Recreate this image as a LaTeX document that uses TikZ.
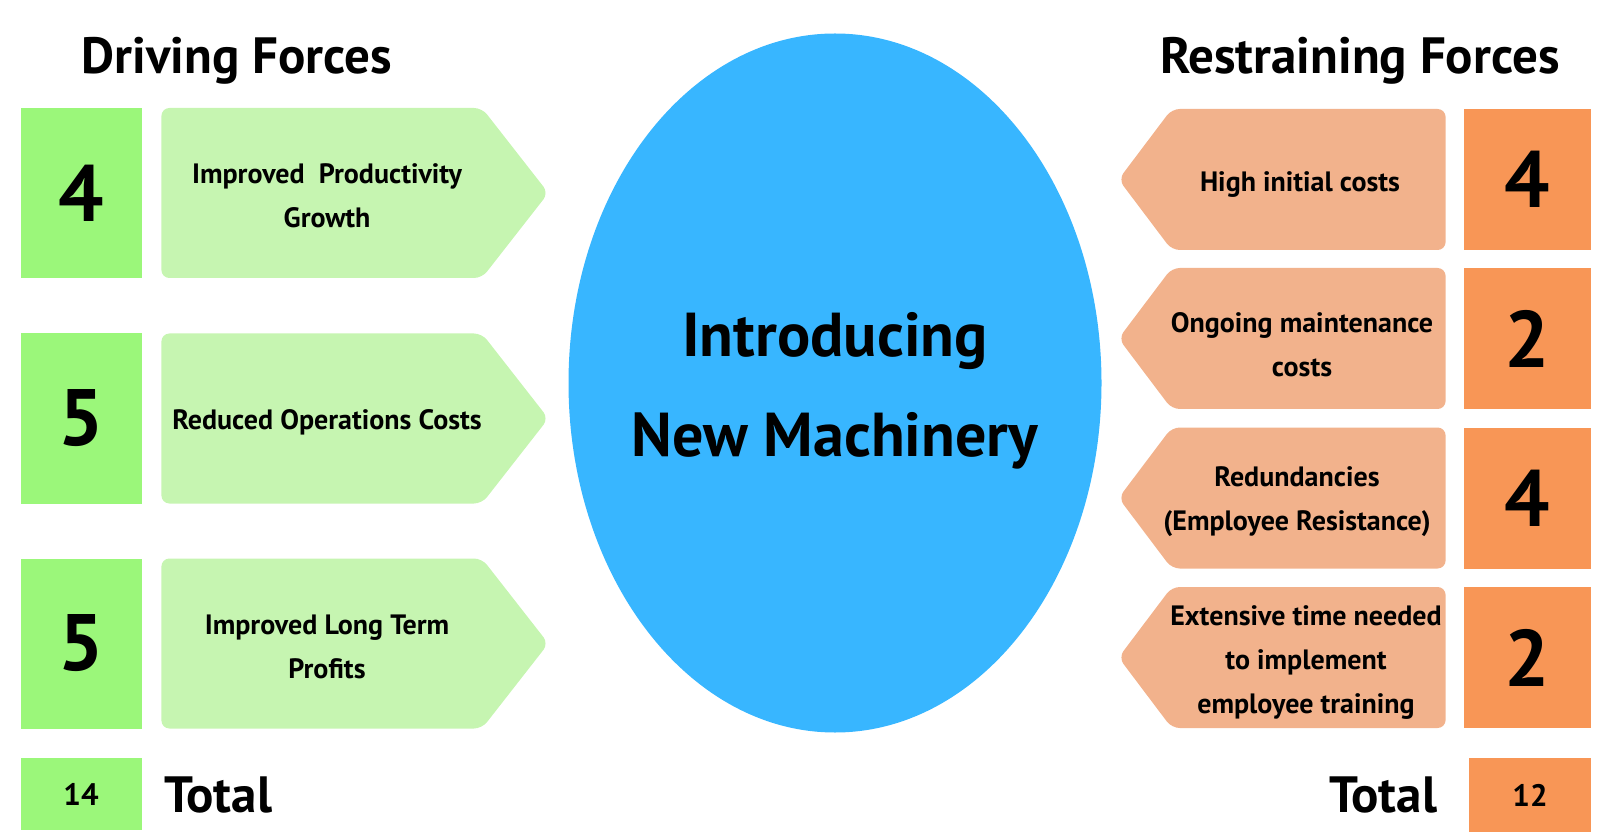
\documentclass[tikz,border=0pt]{standalone}
\usepackage{fontspec}
\setmainfont{PT Sans}
\usetikzlibrary{shapes.symbols,shapes.geometric}
\definecolor{drivebox}{RGB}{155,247,122}
\definecolor{drivearr}{RGB}{198,245,177}
\definecolor{restarr}{RGB}{242,178,140}
\definecolor{restbox}{RGB}{248,150,86}
\definecolor{centre}{RGB}{56,182,255}

\begin{document}
\begin{tikzpicture}[x=0.5pt,y=-0.5pt,
  title/.style={font=\fontsize{25.5}{28}\selectfont\bfseries},
  num/.style={inner sep=0pt,font=\fontsize{40}{42}\selectfont\bfseries},
  dnum/.style={num,fill=drivebox,minimum width=60.5pt,minimum height=85pt},
  rnum/.style={num,fill=restbox,minimum width=63.5pt,minimum height=70.5pt},
  darr/.style={signal,signal to=east,signal pointer angle=104,fill=drivearr,anchor=west,
               rounded corners=4pt,inner sep=0pt,minimum width=193.5pt,minimum height=85pt},
  rarr/.style={signal,signal to=west,signal pointer angle=106,fill=restarr,anchor=east,
               rounded corners=4pt,inner sep=0pt,minimum width=163.5pt,minimum height=70.5pt},
  lbl/.style={align=center,font=\fontsize{14}{22}\selectfont\bfseries},
  tot/.style={inner sep=0pt,font=\fontsize{15.5}{17}\selectfont\bfseries}
]
\useasboundingbox (0,0) rectangle (1600,839);

% headings
\node[title] (drivehead) at (237,61) {Driving Forces};
\node[title] (resthead) at (1360,61) {Restraining Forces};

% centre
\node[ellipse,fill=centre,inner sep=0pt,minimum width=266.5pt,minimum height=349.5pt]
  (change) at (835,383) {};
\node[align=center,font=\fontsize{31}{50}\selectfont\bfseries] (changetxt) at (835,391)
  {Introducing\\New Machinery};

% driving forces
\node[dnum] (d1) at (81.5,193) {4};
\node[dnum] (d2) at (81.5,418.5) {5};
\node[dnum] (d3) at (81.5,643.5) {5};
\node[darr] (da1) at (161,193) {};
\node[darr] (da2) at (161,418.5) {};
\node[darr] (da3) at (161,643.5) {};
\node[lbl] (dl1) at (327,196) {Improved\ \ Productivity\\Growth};
\node[lbl] (dl2) at (327,422) {Reduced Operations Costs};
\node[lbl] (dl3) at (327,647) {Improved Long Term\\Profits};
\node[tot,fill=drivebox,minimum width=60.5pt,minimum height=36pt] (dtot) at (81,794) {14};
\node[title,anchor=west] (dtotlbl) at (157,795) {Total};

% restraining forces
\node[rarr] (ra1) at (1446,179.5) {};
\node[rarr] (ra2) at (1446,338.5) {};
\node[rarr] (ra3) at (1446,498) {};
\node[rarr] (ra4) at (1446,657.5) {};
\node[rnum] (r1) at (1527.5,179.5) {4};
\node[rnum] (r2) at (1527.5,338.5) {2};
\node[rnum] (r3) at (1527.5,498) {4};
\node[rnum] (r4) at (1527.5,657.5) {2};
\node[lbl] (rl1) at (1300,185) {High initial costs};
\node[lbl] (rl2) at (1302,345) {Ongoing maintenance\\costs};
\node[lbl] (rl3) at (1297,502) {Redundancies\\(Employee Resistance)};
\node[lbl] (rl4) at (1306,663) {Extensive time needed\\to implement\\employee training};
\node[tot,fill=restbox,minimum width=61pt,minimum height=37pt] (rtot) at (1530,795) {12};
\node[title,anchor=east] (rtotlbl) at (1444,795) {Total};
\end{tikzpicture}
\end{document}
